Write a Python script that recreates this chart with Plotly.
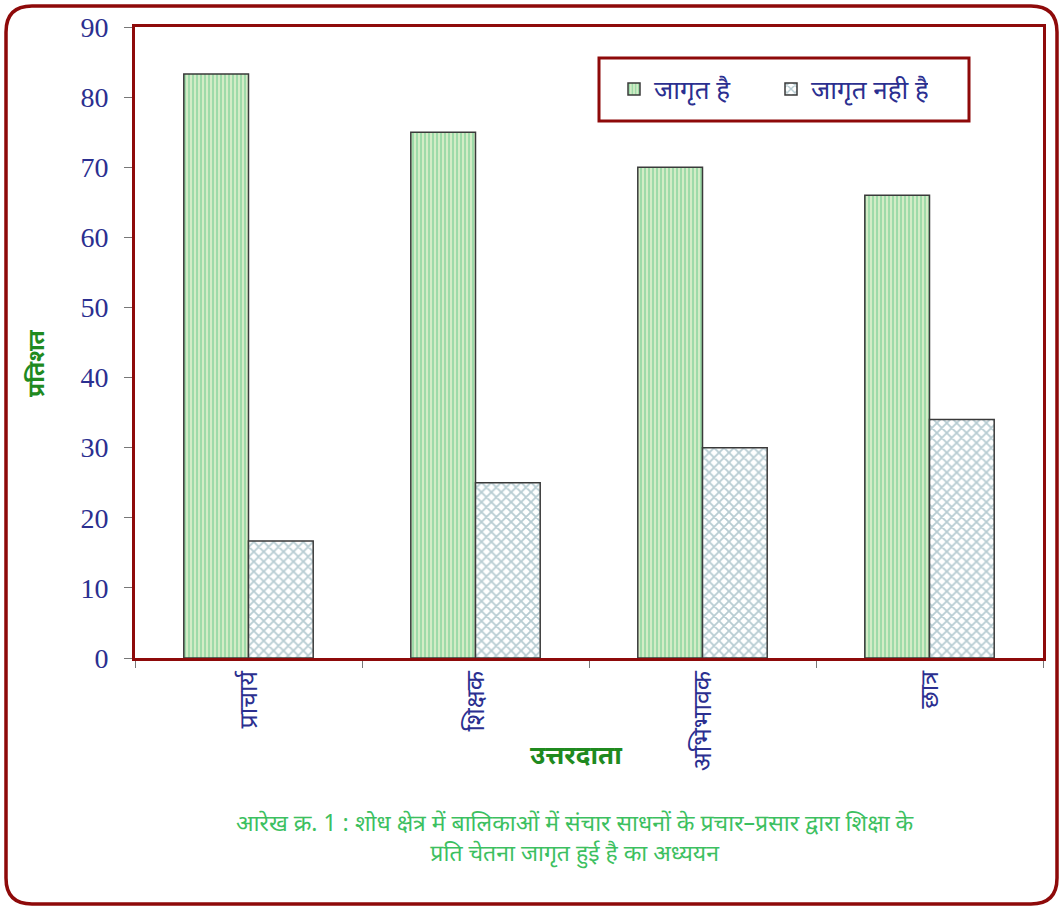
import plotly.graph_objects as go

# Respondent groups and awareness shares (%)
categories = ["प्राचार्य", "शिक्षक", "अभिभावक", "छात्र"]
aware = [83.3, 75, 70, 66]
not_aware = [16.7, 25, 30, 34]
series_names = ["जागृत है", "जागृत नही है"]
y_ticks = [0, 10, 20, 30, 40, 50, 60, 70, 80, 90]
caption_lines = [
    "आरेख क्र. 1 : शोध क्षेत्र में बालिकाओं में संचार साधनों के प्रचार–प्रसार द्वारा शिक्षा के",
    "प्रति चेतना जागृत हुई है का अध्ययन",
]

W, H = 1063, 909
L, R, T, B = 135, 20, 27, 251
PW, PH = W - L - R, H - T - B


def px(x):
    return (x - L) / PW


def py(y):
    return (H - B - y) / PH


DEV = "Noto Sans Devanagari, Lohit Devanagari, Noto Sans, sans-serif"
NAVY = "#2b2f90"
DARKRED = "#8e0a0a"

fig = go.Figure()
fig.add_trace(go.Bar(
    x=categories, y=aware, name=series_names[0],
    marker=dict(
        color="#d3ecc6",
        line=dict(color="#3a3a3a", width=1.5),
        pattern=dict(shape="|", fgcolor="#5cc485", bgcolor="#d3ecc6",
                     size=4, solidity=0.45),
    ),
))
fig.add_trace(go.Bar(
    x=categories, y=not_aware, name=series_names[1],
    marker=dict(
        color="#ffffff",
        line=dict(color="#3a3a3a", width=1.5),
        pattern=dict(shape="x", fgcolor="#6f9aa6", bgcolor="#ffffff",
                     size=7, solidity=0.45),
    ),
))

# Rounded outer frame drawn in paper coordinates
x0, x1, y0, y1, r = 6, 1057, 6, 904, 26
fx = lambda v: f"{px(v):.5f}"
fy = lambda v: f"{py(v):.5f}"
path = (
    f"M {fx(x0 + r)},{fy(y0)} L {fx(x1 - r)},{fy(y0)} "
    f"Q {fx(x1)},{fy(y0)} {fx(x1)},{fy(y0 + r)} "
    f"L {fx(x1)},{fy(y1 - r)} Q {fx(x1)},{fy(y1)} {fx(x1 - r)},{fy(y1)} "
    f"L {fx(x0 + r)},{fy(y1)} Q {fx(x0)},{fy(y1)} {fx(x0)},{fy(y1 - r)} "
    f"L {fx(x0)},{fy(y0 + r)} Q {fx(x0)},{fy(y0)} {fx(x0 + r)},{fy(y0)} Z"
)
fig.add_shape(type="path", path=path, xref="paper", yref="paper",
              line=dict(color=DARKRED, width=3.5), layer="above")

# Legend box
fig.add_shape(type="rect", xref="paper", yref="paper",
              x0=px(599), x1=px(969), y0=py(121), y1=py(58),
              line=dict(color=DARKRED, width=3), fillcolor="white", layer="below")

# Axis titles (the Devanagari font sits high in its line box, hence the offsets)
fig.add_annotation(text="<b>उत्तरदाता</b>", xref="paper", yref="paper",
                   x=px(576), y=py(777), showarrow=False,
                   font=dict(family=DEV, size=26, color="#1f8a1f"))
fig.add_annotation(text="<b>प्रतिशत</b>", xref="paper", yref="paper",
                   x=px(21), y=py(363), showarrow=False, textangle=-90,
                   font=dict(family=DEV, size=23, color="#1f8a1f"))
fig.add_annotation(text="<br>".join(caption_lines), xref="paper", yref="paper",
                   x=px(575), y=py(872), showarrow=False, align="center",
                   font=dict(family=DEV, size=23, color="#3cc060"))

fig.update_layout(
    width=W, height=H,
    margin=dict(l=L, r=R, t=T, b=B),
    paper_bgcolor="white", plot_bgcolor="white",
    barmode="group", bargap=0.43, bargroupgap=0,
    showlegend=True,
    legend=dict(orientation="h", x=px(614), y=py(89), xanchor="left",
                yanchor="middle", bgcolor="rgba(0,0,0,0)", borderwidth=0,
                entrywidth=112, entrywidthmode="pixels",
                font=dict(family=DEV, size=26, color=NAVY)),
    xaxis=dict(
        showline=True, mirror=True, linecolor=DARKRED, linewidth=3,
        ticks="outside", tickson="boundaries", ticklen=7, tickcolor="#777",
        tickangle=-90, tickfont=dict(family=DEV, size=25, color=NAVY),
        showgrid=False,
    ),
    yaxis=dict(
        range=[0, 90], tickvals=y_ticks, showline=True, mirror=True,
        linecolor=DARKRED, linewidth=3, ticks="outside", ticklen=8,
        tickcolor="#777", showgrid=False, zeroline=False,
        ticklabelstandoff=10,
        tickfont=dict(family="Liberation Serif, serif", size=28, color=NAVY),
    ),
)

fig.write_html("out.html")
